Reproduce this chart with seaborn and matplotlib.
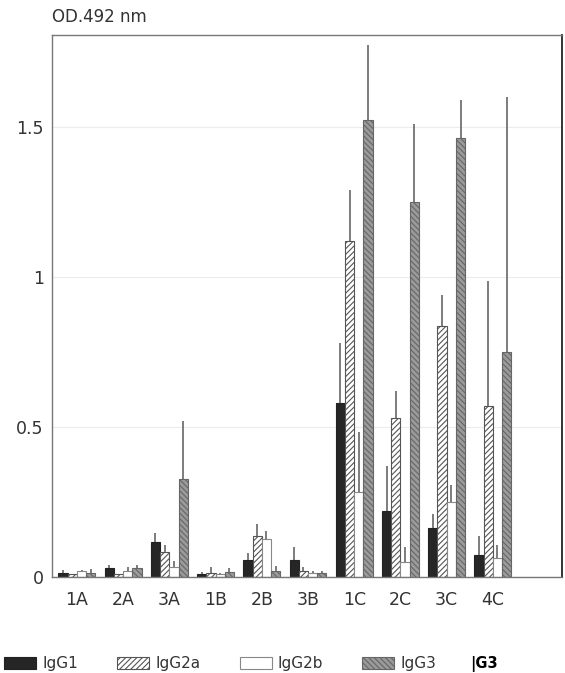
import pandas as pd
import matplotlib
matplotlib.use("Agg")
import matplotlib.pyplot as plt
import seaborn as sns
from matplotlib.patches import Patch

# 数据 (OD 492 nm), 读自原图
groups = ['1A', '2A', '3A', '1B', '2B', '3B', '1C', '2C', '3C', '4C']
igg1 = [0.015, 0.03, 0.117, 0.011, 0.058, 0.058, 0.58, 0.22, 0.163, 0.073]
igg1_err = [0.008, 0.01, 0.03, 0.006, 0.023, 0.042, 0.20, 0.15, 0.047, 0.064]
igg2a = [0.01, 0.01, 0.083, 0.013, 0.138, 0.019, 1.12, 0.53, 0.836, 0.569]
igg2a_err = [0.0, 0.0, 0.025, 0.02, 0.04, 0.014, 0.17, 0.09, 0.104, 0.42]
igg2b = [0.02, 0.02, 0.033, 0.009, 0.127, 0.013, 0.285, 0.051, 0.251, 0.063]
igg2b_err = [0.005, 0.015, 0.019, 0.006, 0.025, 0.007, 0.2, 0.05, 0.056, 0.044]
igg3 = [0.015, 0.03, 0.326, 0.016, 0.019, 0.015, 1.523, 1.25, 1.463, 0.75]
igg3_err = [0.012, 0.01, 0.196, 0.014, 0.017, 0.005, 0.25, 0.26, 0.127, 0.85]

isotypes = ['IgG1', 'IgG2a', 'IgG2b', 'IgG3']
means = [igg1, igg2a, igg2b, igg3]
errs = [igg1_err, igg2a_err, igg2b_err, igg3_err]

rows = []
for iso, m in zip(isotypes, means):
    for g, v in zip(groups, m):
        rows.append({'group': g, 'isotype': iso, 'od': v})
df = pd.DataFrame(rows)

sns.set_style('white')
plt.rcParams['font.family'] = ['DejaVu Sans']
plt.rcParams['hatch.linewidth'] = 0.8

fig = plt.figure(figsize=(5.65, 6.73), dpi=100)
ax = fig.add_axes([0.092, 0.1426, 0.903, 0.805])

sns.barplot(data=df, x='group', y='od', hue='isotype', hue_order=isotypes,
            order=groups, errorbar=None, width=0.8, ax=ax, legend=False)

styles = {
    'IgG1': dict(face='#262626', edge='#222222', hatch=None),
    'IgG2a': dict(face='white', edge='#555555', hatch='//////'),
    'IgG2b': dict(face='white', edge='#888888', hatch=None),
    'IgG3': dict(face='#9a9a9a', edge='#666666', hatch='\\\\\\\\\\\\'),
}

for cont, iso, e in zip(ax.containers, isotypes, errs):
    st = styles[iso]
    for bar, err in zip(cont, e):
        bar.set_facecolor(st['face'])
        bar.set_edgecolor(st['edge'])
        bar.set_linewidth(0.8)
        if st['hatch']:
            bar.set_hatch(st['hatch'])
        xc = bar.get_x() + bar.get_width() / 2
        top = bar.get_height()
        if err > 0:
            ax.vlines(xc, top, top + err, color='#666666', lw=1.2, zorder=3)

ax.set_xlim(-0.54, 10.5)
ax.set_ylim(0, 1.807)
ax.set_yticks([0, 0.5, 1, 1.5])
ax.set_yticklabels(['0', '0.5', '1', '1.5'])
ax.yaxis.grid(True, color='#ececec', lw=0.8)
ax.set_axisbelow(True)
ax.set_xlabel('')
ax.set_ylabel('')
ax.tick_params(axis='both', length=0, labelsize=12.5, colors='#333333', pad=6)
ax.tick_params(axis='x', pad=10)
for s in ['left', 'bottom', 'top']:
    ax.spines[s].set_color('#777777')
    ax.spines[s].set_linewidth(1)
ax.spines['right'].set_color('#333333')
ax.spines['right'].set_linewidth(1.4)

fig.text(0.092, 0.975, 'OD.492 nm', fontsize=12, color='#333333', va='center')

handles = [Patch(facecolor=styles[i]['face'], edgecolor=styles[i]['edge'],
                 hatch=styles[i]['hatch'], label=i, lw=0.8) for i in isotypes]
fig.legend(handles=handles, loc='lower left', bbox_to_anchor=(0.005, 0.0),
           ncol=4, frameon=False, fontsize=11, handlelength=2.1,
           handleheight=0.8, handletextpad=0.4, columnspacing=2.55,
           borderpad=0.1, borderaxespad=0, labelcolor='#333333')
fig.text(0.832, 0.008, '|G3', fontsize=10.5, fontweight='bold', color='black')

fig.savefig('out.png', dpi=100)
